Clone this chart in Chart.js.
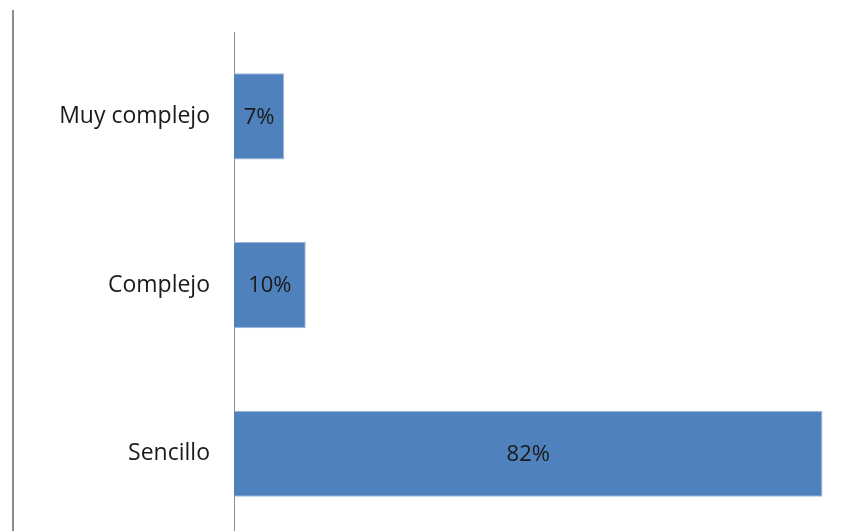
<!DOCTYPE html>
<html>
<head>
<meta charset="utf-8">
<script src="https://cdn.jsdelivr.net/npm/chart.js@4"></script>
<style>
  html, body { margin: 0; padding: 0; background: #fff; overflow: hidden; }
</style>
</head>
<body>
<canvas id="chart" width="864" height="568"></canvas>
<script>
const categories = ["Muy complejo", "Complejo", "Sencillo"];
const percents = [7, 10, 82];
const valueLabels = ["7%", "10%", "82%"];

// bar value text in the middle of each bar
const barLabels = {
  id: "barLabels",
  afterDatasetsDraw(chart) {
    const ctx = chart.ctx;
    const meta = chart.getDatasetMeta(0);
    ctx.save();
    ctx.font = "22px 'Open Sans'";
    ctx.fillStyle = "#1a1a1a";
    ctx.textAlign = "center";
    ctx.textBaseline = "middle";
    meta.data.forEach((bar, i) => {
      ctx.fillText(valueLabels[i], (bar.x + bar.base) / 2, bar.y + 1);
    });
    ctx.restore();
  }
};

// thin gray frame line on the left
const frameLine = {
  id: "frameLine",
  beforeDraw(chart) {
    const ctx = chart.ctx;
    ctx.save();
    ctx.strokeStyle = "#8c8c8c";
    ctx.lineWidth = 2;
    ctx.beginPath();
    ctx.moveTo(13, 10);
    ctx.lineTo(13, chart.height);
    ctx.stroke();
    ctx.restore();
  }
};

new Chart(document.getElementById("chart"), {
  type: "bar",
  data: {
    labels: categories,
    datasets: [{
      data: percents,
      backgroundColor: "#4f81bd",
      borderColor: "#9db8da",
      borderWidth: 1,
      categoryPercentage: 1,
      barPercentage: 0.51
    }]
  },
  options: {
    indexAxis: "y",
    responsive: false,
    animation: false,
    layout: { padding: { top: 32, right: 20, left: 0, bottom: 0 } },
    plugins: {
      legend: { display: false },
      tooltip: { enabled: false }
    },
    scales: {
      x: {
        display: false,
        min: 0,
        max: 85
      },
      y: {
        grid: { display: false },
        border: { display: true, color: "#8c8c8c", width: 1 },
        ticks: {
          color: "#1a1a1a",
          font: { family: "Open Sans", size: 23 },
          padding: 16
        },
        afterFit(scale) { scale.width = 234; }
      }
    }
  },
  plugins: [barLabels, frameLine]
});
</script>
</body>
</html>
